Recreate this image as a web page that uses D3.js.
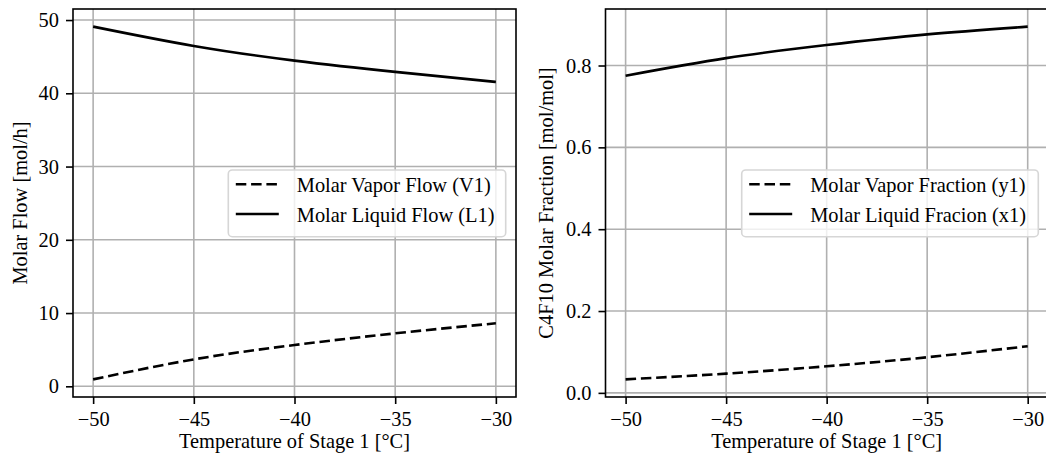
<!DOCTYPE html>
<html>
<head>
<meta charset="utf-8">
<script src="https://cdn.jsdelivr.net/npm/d3@7"></script>
<style>
  html, body { margin: 0; padding: 0; background: #fff; }
  svg { display: block; }
  text { font-family: "Liberation Serif", "Times New Roman", serif; fill: #000; }
</style>
</head>
<body>
<svg id="chart" width="1046" height="460"></svg>
<script>
// ---- data ----
const temps = [-50, -45, -40, -35, -30];
const vaporFlow = [0.95, 3.68, 5.64, 7.23, 8.6];
const liquidFlow = [49.1, 46.46, 44.46, 42.92, 41.55];
const vaporFrac = [0.033, 0.047, 0.065, 0.087, 0.114];
const liquidFrac = [0.775, 0.818, 0.850, 0.876, 0.895];
const xTicks = [-50, -45, -40, -35, -30];
const flowTicks = [0, 10, 20, 30, 40, 50];
const fracTicks = [0, 0.2, 0.4, 0.6, 0.8];
const xLabel = "Temperature of Stage 1 [°C]";
const leftYLabel = "Molar Flow [mol/h]";
const rightYLabel = "C4F10 Molar Fraction [mol/mol]";
const leftLegend = ["Molar Vapor Flow (V1)", "Molar Liquid Flow (L1)"];
const rightLegend = ["Molar Vapor Fraction (y1)", "Molar Liquid Fracion (x1)"];

const svg = d3.select("#chart");
const FS = 20.4;

function pad(ext, frac) {
  const r = ext[1] - ext[0];
  return [ext[0] - r * frac, ext[1] + r * frac];
}

function panel(cfg) {
  const g = svg.append("g");
  const xExt = pad(d3.extent(temps), 0.05);
  const allY = cfg.series.flat();
  const yExt = pad(d3.extent(allY), 0.05);
  const x = d3.scaleLinear().domain(xExt).range([cfg.x0, cfg.x1]);
  const y = d3.scaleLinear().domain(yExt).range([cfg.y1, cfg.y0]);

  const clipId = "clip" + cfg.id;
  svg.append("clipPath").attr("id", clipId).append("rect")
    .attr("x", cfg.x0).attr("y", cfg.y0)
    .attr("width", cfg.x1 - cfg.x0).attr("height", cfg.y1 - cfg.y0);

  // grid
  g.append("g").selectAll("line").data(xTicks).join("line")
    .attr("x1", d => x(d)).attr("x2", d => x(d))
    .attr("y1", cfg.y0).attr("y2", cfg.y1)
    .attr("stroke", "#b0b0b0").attr("stroke-width", 1.6);
  g.append("g").selectAll("line").data(cfg.yTicks).join("line")
    .attr("x1", cfg.x0).attr("x2", cfg.x1)
    .attr("y1", d => y(d)).attr("y2", d => y(d))
    .attr("stroke", "#b0b0b0").attr("stroke-width", 1.6);

  // lines
  const styles = ["10.5,4.8", null];
  cfg.series.forEach((vals, i) => {
    const line = d3.line()
      .x((d, j) => x(temps[j]))
      .y(d => y(d))
      .curve(d3.curveNatural);
    g.append("path")
      .attr("d", line(vals))
      .attr("fill", "none")
      .attr("stroke", "#000")
      .attr("stroke-width", 2.6)
      .attr("stroke-dasharray", styles[i])
      .attr("clip-path", `url(#${clipId})`);
  });

  // axes
  const xAxis = d3.axisBottom(x).tickValues(xTicks)
    .tickSize(7).tickPadding(7).tickFormat(d3.format("d"));
  const gx = g.append("g").attr("transform", `translate(0,${cfg.y1})`).call(xAxis);
  gx.attr("font-family", null).attr("font-size", null);
  gx.select(".domain").remove();
  gx.selectAll(".tick line").attr("stroke", "#000").attr("stroke-width", 1.6);
  gx.selectAll(".tick text").attr("font-size", FS).attr("dy", "0.72em");

  const yAxis = d3.axisLeft(y).tickValues(cfg.yTicks)
    .tickSize(7).tickPadding(7).tickFormat(cfg.fmt);
  const gy = g.append("g").attr("transform", `translate(${cfg.x0},0)`).call(yAxis);
  gy.attr("font-family", null).attr("font-size", null);
  gy.select(".domain").remove();
  gy.selectAll(".tick line").attr("stroke", "#000").attr("stroke-width", 1.6);
  gy.selectAll(".tick text").attr("font-size", FS);

  // spines
  g.append("rect")
    .attr("x", cfg.x0).attr("y", cfg.y0)
    .attr("width", cfg.x1 - cfg.x0).attr("height", cfg.y1 - cfg.y0)
    .attr("fill", "none").attr("stroke", "#000").attr("stroke-width", 1.6);

  // axis labels
  g.append("text")
    .attr("x", (cfg.x0 + cfg.x1) / 2).attr("y", 448)
    .attr("text-anchor", "middle").attr("font-size", FS)
    .text(xLabel);
  g.append("text")
    .attr("transform", `translate(${cfg.ylx},${(cfg.y0 + cfg.y1) / 2}) rotate(-90)`)
    .attr("text-anchor", "middle").attr("font-size", FS)
    .text(cfg.yLabel);

  // legend
  const L = cfg.legend;
  const lg = g.append("g");
  lg.append("rect")
    .attr("x", L.x).attr("y", 170).attr("width", L.w).attr("height", 66.7)
    .attr("rx", 4).attr("ry", 4)
    .attr("fill", "#fff").attr("fill-opacity", 0.8)
    .attr("stroke", "#d6d6d6").attr("stroke-width", 1.6);
  cfg.labels.forEach((lab, i) => {
    const cy = 184.3 + i * 29.7;
    lg.append("line")
      .attr("x1", L.x + 7.5).attr("x2", L.x + 50.5)
      .attr("y1", cy).attr("y2", cy)
      .attr("stroke", "#000").attr("stroke-width", 2.6)
      .attr("stroke-dasharray", styles[i]);
    lg.append("text")
      .attr("x", L.x + 68.5).attr("y", cy + 7.5)
      .attr("font-size", FS)
      .text(lab);
  });
}

panel({
  id: "L", x0: 73, x1: 516, y0: 9, y1: 397,
  series: [vaporFlow, liquidFlow], yTicks: flowTicks, fmt: d3.format("d"),
  yLabel: leftYLabel, ylx: 27, labels: leftLegend,
  legend: { x: 228.3, w: 277.4 }
});
panel({
  id: "R", x0: 605.5, x1: 1047.8, y0: 9, y1: 397,
  series: [vaporFrac, liquidFrac], yTicks: fracTicks, fmt: d3.format(".1f"),
  yLabel: rightYLabel, ylx: 553, labels: rightLegend,
  legend: { x: 741.7, w: 296.6 }
});
</script>
</body>
</html>
